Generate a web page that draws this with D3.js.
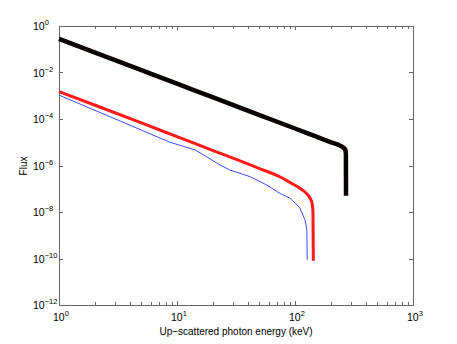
<!DOCTYPE html>
<html>
<head>
<meta charset="utf-8">
<script src="https://cdn.jsdelivr.net/npm/d3@7"></script>
<style>
  body { margin: 0; background: #fff; }
  text { font-family: "Liberation Sans", Arial, sans-serif; fill: #000; }
</style>
</head>
<body>
<div id="chart"></div>
<script>
// black curve (thick)
var blackE = [1, 2, 5, 10, 20, 50, 100, 150, 200, 240, 255, 263, 268, 270, 270.5];
var blackF = [0.28, 7.4e-2, 1.26e-2, 3.3e-3, 8.7e-4, 1.48e-4, 3.9e-5, 1.78e-5, 1.02e-5, 7.2e-6, 6.1e-6, 5.3e-6, 4.4e-6, 3e-6, 5e-8];

// red curve
var redE = [1, 2, 5, 10, 20, 50, 75, 90, 110, 125, 134, 140, 142, 143];
var redF = [1.5e-3, 4.0e-4, 6.8e-5, 1.74e-5, 4.5e-6, 7.4e-7, 3.2e-7, 1.9e-7, 1.05e-7, 6.3e-8, 4e-8, 2.2e-8, 1e-8, 8e-11];

// blue curve (thin, a bit noisy)
var blueE = [1, 2, 4, 8.7, 14.2, 17.8, 23.1, 28.1, 41.6, 57.6, 74.6, 90.7, 110, 121.5, 126, 127];
var blueF = [1.07e-3, 2.4e-4, 5.4e-5, 1.0e-5, 4.7e-6, 2.4e-6, 1.05e-6, 6.4e-7, 3.3e-7, 1.45e-7, 6.3e-8, 3.9e-8, 1.5e-8, 4.6e-9, 1.7e-9, 8.7e-11];

// tick values
var xTicks = [1, 10, 100, 1000];
var yTicks = [1, 1e-2, 1e-4, 1e-6, 1e-8, 1e-10, 1e-12];

var width = 457, height = 344;
var pLeft = 59, pRight = 413, pTop = 26, pBottom = 305;

var svg = d3.select('#chart')
  .append('svg')
  .attr('width', width)
  .attr('height', height);

var x = d3.scaleLog().domain([1, 1000]).range([pLeft, pRight]);
var y = d3.scaleLog().domain([1e-12, 1]).range([pBottom, pTop]);

// minor x ticks 2..9 in each decade
var xMinor = [];
[1, 10, 100].forEach(function(d) {
  for (var k = 2; k <= 9; k++) xMinor.push(d * k);
});

var axisColor = '#666';

// box
svg.append('rect')
  .attr('x', pLeft + 0.5).attr('y', pTop + 0.5)
  .attr('width', pRight - pLeft).attr('height', pBottom - pTop)
  .attr('fill', 'none')
  .attr('stroke', axisColor)
  .attr('stroke-width', 1);

// x ticks, bottom and top, pointing inside
var xAll = xTicks.concat(xMinor);
svg.append('g').selectAll('line')
  .data(xAll)
  .enter().append('line')
  .attr('x1', function(d) { return Math.round(x(d)) + 0.5; })
  .attr('x2', function(d) { return Math.round(x(d)) + 0.5; })
  .attr('y1', pBottom)
  .attr('y2', function(d) { return xTicks.indexOf(d) >= 0 ? pBottom - 4 : pBottom - 3; })
  .attr('stroke', axisColor);
svg.append('g').selectAll('line')
  .data(xAll)
  .enter().append('line')
  .attr('x1', function(d) { return Math.round(x(d)) + 0.5; })
  .attr('x2', function(d) { return Math.round(x(d)) + 0.5; })
  .attr('y1', pTop)
  .attr('y2', function(d) { return xTicks.indexOf(d) >= 0 ? pTop + 4 : pTop + 3; })
  .attr('stroke', axisColor);

// y ticks, left and right
svg.append('g').selectAll('line')
  .data(yTicks)
  .enter().append('line')
  .attr('x1', pLeft).attr('x2', pLeft + 4)
  .attr('y1', function(d) { return Math.round(y(d)) + 0.5; })
  .attr('y2', function(d) { return Math.round(y(d)) + 0.5; })
  .attr('stroke', axisColor);
svg.append('g').selectAll('line')
  .data(yTicks)
  .enter().append('line')
  .attr('x1', pRight).attr('x2', pRight - 4)
  .attr('y1', function(d) { return Math.round(y(d)) + 0.5; })
  .attr('y2', function(d) { return Math.round(y(d)) + 0.5; })
  .attr('stroke', axisColor);

// tick labels as 10 with superscript
function expOf(d) { return Math.round(Math.log10(d)); }

var xl = svg.append('g').selectAll('text')
  .data(xTicks)
  .enter().append('text')
  .attr('x', function(d) { return x(d) - 6; })
  .attr('y', 321)
  .style('font-size', '10.5px');
xl.append('tspan').text('10');
xl.append('tspan')
  .attr('dy', -5)
  .style('font-size', '7.5px')
  .text(function(d) { return String(expOf(d)).replace('-', '\u2212'); });

var yl = svg.append('g').selectAll('text')
  .data(yTicks)
  .enter().append('text')
  .attr('x', 33)
  .attr('y', function(d) { return y(d) + 4; })
  .style('font-size', '10.5px');
yl.append('tspan').text('10');
yl.append('tspan')
  .attr('dy', -5)
  .style('font-size', '7.5px')
  .text(function(d) { return String(expOf(d)).replace('-', '\u2212'); });

// axis titles
svg.append('text')
  .attr('x', 236).attr('y', 335)
  .attr('text-anchor', 'middle')
  .style('font-size', '10px')
  .text('Up\u2212scattered photon energy (keV)');

svg.append('text')
  .attr('transform', 'translate(27,166) rotate(-90)')
  .attr('text-anchor', 'middle')
  .style('font-size', '10px')
  .text('Flux');

// curves
var smooth = d3.line()
  .x(function(d) { return x(d[0]); })
  .y(function(d) { return y(d[1]); })
  .curve(d3.curveMonotoneX);

var straight = d3.line()
  .x(function(d) { return x(d[0]); })
  .y(function(d) { return y(d[1]); });

var series = [
  { e: blueE, f: blueF, color: '#3d4dff', w: 1, gen: straight },
  { e: redE, f: redF, color: '#ff1a1a', w: 3, gen: smooth },
  { e: blackE, f: blackF, color: '#0a0000', w: 4.5, gen: smooth }
];

svg.append('g').selectAll('path')
  .data(series)
  .enter().append('path')
  .attr('d', function(s) { return s.gen(d3.zip(s.e, s.f)); })
  .attr('fill', 'none')
  .attr('stroke', function(s) { return s.color; })
  .attr('stroke-width', function(s) { return s.w; })
  .attr('stroke-linejoin', 'round');
</script>
</body>
</html>
